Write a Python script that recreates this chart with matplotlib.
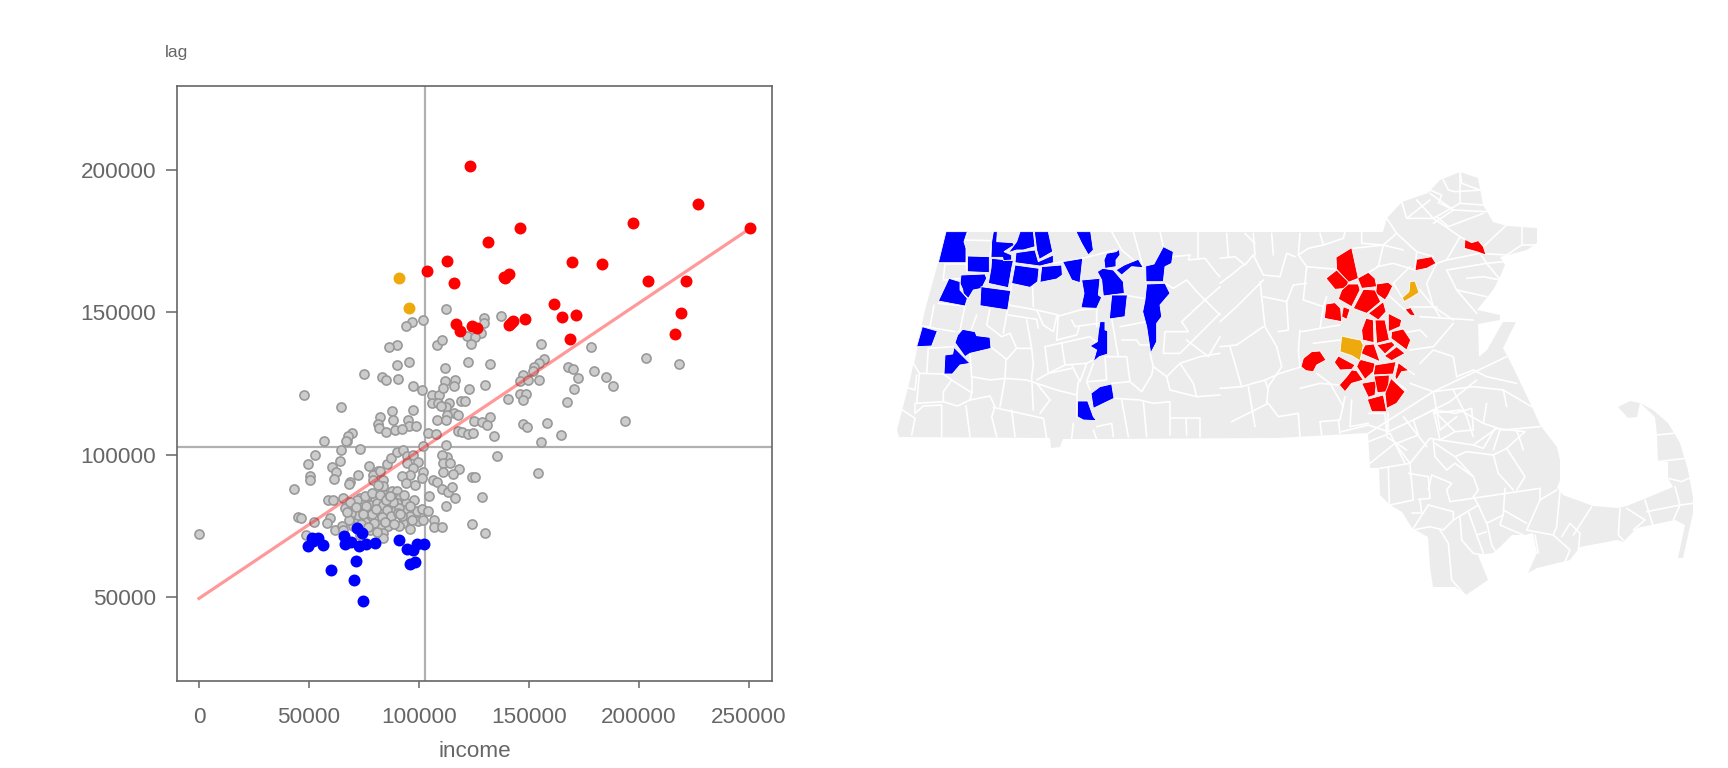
import matplotlib
matplotlib.use("Agg")
import matplotlib.pyplot as plt
from matplotlib.patches import Polygon

plt.rcParams['font.family'] = ['Liberation Sans', 'DejaVu Sans']

# scatter data (income, spatial lag)
grey_income = [57000, 67100, 64500, 73200, 52700, 49700, 64100, 60600, 62100, 77300, 72400, 50500, 50500, 61500, 68600,
               68300, 43200, 81500, 79200, 79000, 83800, 82300, 83800, 81500, 85300, 87300, 89800, 92900, 94400, 97400,
               99700, 94400, 97100, 95900, 102000, 101200, 92400, 94000, 98300, 106500, 108000, 110300, 113300, 104700,
               112100, 97700, 58800, 61100, 65600, 66400, 70200, 73200, 74000, 77000, 80000, 77700, 74700, 70900, 71700,
               75500, 77700, 81100, 84500, 87600, 90100, 89100, 86800, 91400, 94100, 89800, 93600, 85300, 82300, 83800,
               89100, 91100, 95900, 99000, 101200, 104200, 99700, 102000, 92900, 86100, 82300, 83800, 95900, 107000,
               107000, 110600, 45200, 46200, 59500, 58300, 52300, 61800, 64800, 65600, 70900, 75500, 77700, 48500, 73200,
               83800,
               89800, 86400, 108300, 95500, 90100, 75000, 83000, 85000, 90600, 97400, 101500, 106100, 109200, 64500,
               105800, 108800, 87900, 97400, 82300, 88300, 95100, 108300, 81500, 95600, 98500, 81800, 84800, 89100, 92100,
               104200, 107600, 69400, 67900, 66700, 102000,
               112300, 129700, 129700, 137300, 128000, 122000, 125500, 123600, 110300, 155400, 178200, 122400, 132300,
               111800, 157000, 154700, 152400, 151700, 147400, 145900, 149700, 154500, 167600, 170100, 179700, 172400,
               170400, 111800, 116400, 115900, 110800, 122900, 130000, 145900, 148500, 147400, 140600, 167400, 113800,
               118900, 120900, 112300, 110000, 116100, 117600, 112900, 112300, 132300, 125100, 128500, 130800, 147400,
               148900, 158300, 117900, 119400, 122400, 124700, 134200, 164700, 155400, 112300, 135600, 112600, 110300,
               110800, 114100, 118300, 111100, 115600, 123900, 125500, 154100,
               101900, 96700, 94100, 47700, 203300, 218300, 185000, 188300, 193500, 128500, 124200, 130000, 116500,
               115000, 0,
               72000, 75500, 78500, 82500, 86000, 88000, 85500, 87500, 92500, 76000, 72500, 68500, 70000, 79500, 83000,
               91000, 97000, 85000, 90500, 78500,
               69000, 71500, 74500, 68000, 80500, 84500, 87000, 93000, 96000, 73500, 67500, 77000, 81000, 88500, 91500]
grey_lag = [104700, 104700, 101800, 102100, 100000, 96800, 97900, 95700, 93900, 96100, 93000, 92600, 91000, 91500, 90300,
            89800, 88100, 94100, 93000, 91000, 91200, 94100, 88900, 89500, 96800, 98800, 100800, 101500, 99400, 100000,
            97300, 97100, 95300, 93000, 93900, 91800, 92600, 90000, 89500, 91200, 90400, 88100, 86900, 85600,
            82100, 84200, 84200, 84200, 84800, 81300, 82400, 84800, 83000, 84800, 84200, 82400, 80700, 80100, 77200,
            80100, 78300, 83000, 86000, 87100, 87100, 84800, 82400, 84800, 83000, 83000, 80700, 77800, 79500, 82400,
            80100, 81300, 78300, 80100, 80900, 80300, 76600, 77200, 76000, 74800, 74200, 72500, 73900, 77200,
            74600, 74600, 78100, 77800, 77800, 76000, 76300, 73700, 75100, 73700, 76000, 76200, 73700, 71700, 71900,
            70700,
            138600, 137800, 138600, 132600, 131500, 128400, 127300, 126100, 126600, 124200, 122600, 121100, 121100, 116800,
            118200, 118200, 115500, 115800, 113100, 112300, 112300, 112300, 110600, 110200, 110000, 109400, 108000, 108600, 109000,
            107600, 107300, 107600, 106400, 104900, 103000,
            151000, 148000, 146300, 148600, 142800, 141800, 141300, 139000, 140400, 138700, 137800, 132600, 131900,
            130500, 133600, 132200, 130700, 129300, 128100, 125800, 126400, 126400, 130800, 130100, 129500, 126900,
            123100, 126000, 126400, 124000, 123400, 123100, 124300, 121400, 121400, 119300, 119700, 118500, 118200,
            119000, 119000, 116800, 117000, 114600, 113800, 113800, 112100, 113300, 112000, 111400, 110400, 110900,
            109700, 111100, 108400, 107900, 107300, 107600, 106700, 107000, 104500, 103500, 99400, 99200, 100000,
            97100, 97100, 95000, 93900, 93300, 92000, 92000, 93600,
            147200, 146500, 145100, 120900, 133900, 131700, 127200, 124000, 111700, 85100, 75600, 72500, 84800,
            88600, 72100,
            84000, 85500, 86500, 86000, 85000, 83500, 80500, 78500, 78500, 82000, 78800, 83300, 75000, 76000, 78000,
            75000, 77000, 84000, 79500, 79000,
            79500, 81500, 79000, 77000, 81000, 76500, 85500, 85800, 82000, 75500, 80000, 74500, 73000, 75500, 79000]

red_income = [123300, 112900, 103800, 116100, 131200, 117000, 118500, 124100, 126400, 146100, 197300, 227000, 250600,
              169700, 183300, 204200, 221500, 138600, 141100, 139100, 161500, 165200, 171500, 219200, 216500, 168800,
              148200, 142900, 141100, 141800]
red_lag = [201300, 167900, 164400, 160200, 174600, 145800, 143500, 145100, 144500, 179500, 181300, 187900, 179500,
           167600, 166900, 160900, 160900, 162500, 163500, 161900, 153100, 148300, 148900, 149600, 142300, 140500,
           147500, 147000, 145400, 146200]

blue_income = [49700, 51500, 54200, 56500, 52000, 60200, 66100, 66400, 69200, 71700, 73900, 72700, 75900, 80000, 71200,
               70600, 74700, 91100, 94600, 97400, 98900, 102100, 95900, 98200]
blue_lag = [67800, 70700, 70700, 68100, 69600, 59500, 71500, 68700, 69200, 74200, 72500, 67800, 68600, 69000, 62500,
            56000, 48600, 70000, 67000, 66400, 68700, 68600, 61500, 62200]

orange_income = [91100, 95600]
orange_lag = [161900, 151400]

mean_income = 102700
mean_lag = 102800
fit_income = [0, 250600]
fit_lag = [49500, 179500]

x_ticks = [0, 50000, 100000, 150000, 200000, 250000]
y_ticks = [50000, 100000, 150000, 200000]

# map outline, page coordinates
state_outline = [
    (946, 232), (1383, 232), (1387, 218), (1402, 202), (1428, 193), (1440, 180), (1460, 172), (1478, 178), (1483, 205),
    (1493, 222), (1507, 226), (1537, 228), (1537, 243), (1527, 250), (1500, 257), (1505, 265), (1500, 277), (1493, 290),
    (1477, 310), (1500, 315), (1500, 320), (1478, 324), (1479, 357), (1487, 350), (1503, 322), (1516, 322), (1503, 348),
    (1513, 367), (1532, 407), (1540, 425), (1557, 447), (1560, 460), (1560, 480), (1557, 488), (1563, 495), (1593, 506),
    (1618, 508), (1627, 506), (1673, 487), (1668, 478), (1668, 462), (1658, 462), (1657, 435), (1655, 417), (1640, 403),
    (1630, 401), (1618, 407), (1628, 418), (1637, 417), (1640, 403), (1653, 410), (1668, 423), (1680, 443), (1688, 470),
    (1693, 497), (1693, 513), (1683, 558), (1678, 558), (1685, 525), (1675, 520), (1637, 528), (1623, 542), (1617, 540),
    (1580, 547), (1570, 560), (1537, 568), (1528, 573), (1537, 553), (1533, 533), (1525, 535), (1512, 535), (1500, 547),
    (1493, 553), (1478, 555), (1488, 580), (1466, 595), (1455, 587), (1433, 587), (1430, 567), (1428, 537), (1412, 528),
    (1402, 512), (1390, 505), (1380, 495), (1379, 468), (1370, 468), (1368, 433), (1277, 438), (1097, 439), (1063, 439),
    (1060, 447), (1051, 448), (1050, 438), (899, 437), (897, 430), (910, 380), (917, 347), (925, 310), (938, 263),
]

# digitised on sheets: (x0, y0) is the sheet corner, sheet units are 1/3 page unit
west_sheet = (880, 200)
east_sheet = (1220, 150)
cape_sheet = (1340, 380)
ne_sheet = (1420, 160)

west_lines = [
    [(262, 95), (252, 125), (258, 188), (262, 215)], [(252, 120), (335, 122)], [(340, 95), (330, 170)],
    [(195, 192), (260, 192)], [(195, 192), (190, 235)], [(190, 240), (245, 235)],
    [(175, 310), (255, 318), (240, 390)], [(162, 315), (150, 380)], [(125, 378), (225, 395)],
    [(110, 440), (100, 490), (118, 520), (190, 522)], [(145, 445), (140, 520)], [(145, 445), (220, 440)],
    [(110, 525), (105, 570), (80, 562)], [(118, 522), (110, 610), (190, 605)],
    [(190, 522), (215, 540), (190, 575), (190, 605), (232, 618), (270, 600)],
    [(215, 540), (275, 578), (270, 600), (330, 588)], [(60, 625), (105, 655), (95, 705)],
    [(105, 610), (105, 640), (130, 618), (185, 615), (185, 710)], [(258, 618), (270, 710)],
    [(330, 588), (345, 620), (335, 650), (350, 710)], [(395, 630), (405, 710)],
    [(340, 622), (490, 655), (500, 715)], [(275, 530), (330, 540), (375, 535), (360, 620)],
    [(375, 535), (440, 540), (470, 550)], [(275, 530), (275, 578)], [(270, 460), (275, 530)],
    [(332, 440), (380, 478), (410, 445), (455, 445)], [(378, 478), (375, 535)], [(290, 345), (270, 400), (235, 395)],
    [(330, 325), (320, 375), (365, 410), (390, 400), (410, 445)], [(385, 315), (470, 330), (535, 345), (530, 420)],
    [(385, 345), (470, 358), (475, 385)], [(395, 252), (385, 315), (370, 400)], [(458, 262), (460, 320)],
    [(470, 330), (490, 375), (520, 395), (530, 350)], [(440, 360), (455, 445), (460, 495), (455, 530), (460, 630)],
    [(530, 350), (600, 330), (650, 325), (650, 380)], [(575, 360), (585, 380), (655, 370)],
    [(530, 420), (590, 405), (598, 380)], [(495, 440), (630, 410), (655, 430)], [(495, 440), (505, 520), (470, 540)],
    [(545, 430), (555, 495), (505, 520)], [(555, 495), (620, 490), (640, 480)], [(575, 495), (600, 545), (620, 490)],
    [(505, 520), (575, 505)], [(470, 550), (530, 570), (590, 585), (595, 545)], [(470, 550), (510, 600), (480, 640)],
    [(590, 585), (590, 650)], [(640, 490), (620, 545), (630, 570)], [(675, 470), (680, 540), (625, 545)],
    [(680, 470), (740, 470), (750, 545), (695, 550)], [(695, 355), (715, 470)], [(720, 380), (800, 365)],
    [(725, 420), (770, 420), (780, 435), (810, 435)], [(750, 545), (785, 575), (815, 525), (820, 500), (810, 460)],
    [(705, 595), (780, 600), (820, 610), (870, 605), (870, 650)], [(725, 600), (745, 710)], [(790, 605), (800, 710)],
    [(870, 655), (960, 655), (960, 710)], [(918, 655), (920, 705)], [(870, 655), (870, 705)],
    [(650, 680), (695, 670), (700, 710)], [(640, 690), (650, 718)], [(580, 670), (575, 715)],
    [(730, 285), (790, 295)], [(695, 95), (725, 150), (790, 205)], [(760, 95), (790, 205)], [(840, 95), (850, 140)],
    [(880, 170), (930, 165), (925, 180), (975, 175), (1010, 220), (1020, 230)],
    [(855, 250), (880, 265), (920, 240), (950, 275), (975, 300), (1020, 260)],
    [(975, 300), (905, 365), (925, 395), (855, 395), (850, 460), (900, 460), (1020, 340)], [(955, 95), (955, 175)],
    [(975, 300), (1020, 345)], [(820, 500), (860, 530), (900, 490), (960, 470), (1020, 460)],
    [(860, 530), (870, 570), (950, 590), (1020, 585)], [(900, 490), (940, 550), (950, 590)],
    [(920, 420), (985, 470), (1020, 410)], [(610, 95), (605, 130)], [(608, 175), (705, 150)],
    [(520, 190), (608, 175)],
]

east_lines = [
    [(0, 325), (45, 320), (75, 345), (100, 315), (130, 375), (180, 380), (200, 310), (225, 320)],
    [(100, 250), (105, 315)], [(155, 250), (160, 315)], [(240, 250), (235, 315), (260, 350), (350, 358)],
    [(20, 250), (25, 320)], [(75, 250), (105, 280)], [(235, 315), (265, 295), (310, 285)],
    [(300, 250), (310, 285), (370, 265), (375, 245)], [(425, 245), (425, 280), (490, 285), (550, 300)],
    [(490, 285), (475, 350), (415, 385)], [(400, 295), (490, 285)], [(500, 205), (530, 250), (590, 305), (585, 360)],
    [(530, 250), (490, 285)], [(545, 155), (560, 205), (630, 150)], [(590, 150), (640, 205)],
    [(640, 205), (720, 160), (790, 165)], [(630, 130), (700, 180)], [(720, 160), (720, 65)],
    [(560, 205), (640, 205), (720, 260), (735, 268)], [(720, 260), (680, 330), (650, 340)], [(590, 305), (640, 320)],
    [(680, 330), (780, 310), (860, 315)], [(790, 290), (860, 225)], [(905, 230), (905, 285), (950, 285)],
    [(860, 315), (905, 285)], [(680, 360), (800, 340), (850, 335)], [(780, 310), (800, 340), (850, 400)],
    [(650, 340), (620, 400), (640, 470), (700, 510)], [(680, 360), (710, 420), (770, 490)], [(710, 420), (800, 440)],
    [(740, 385), (790, 380), (840, 390)], [(600, 420), (640, 470), (660, 500)], [(520, 400), (570, 350)],
    [(570, 470), (650, 470)], [(600, 500), (760, 510)], [(0, 400), (40, 370), (70, 345)],
    [(0, 515), (50, 470), (130, 390)], [(120, 395), (135, 530), (170, 590)],
    [(130, 440), (200, 455), (220, 405), (260, 400)], [(200, 455), (205, 540), (175, 545)],
    [(260, 350), (250, 450), (310, 470), (300, 535)], [(310, 470), (320, 440)], [(0, 590), (50, 585), (130, 530)],
    [(30, 590), (65, 710)], [(170, 590), (185, 650), (145, 710), (140, 760)], [(0, 715), (65, 710), (135, 690), (145, 720)],
    [(245, 650), (180, 670), (135, 690)], [(85, 710), (105, 830)], [(245, 545), (300, 535), (360, 525)],
    [(240, 540), (235, 600), (240, 650)], [(280, 580), (360, 570)], [(240, 715), (300, 700), (358, 705)],
    [(145, 760), (175, 800), (235, 790), (240, 860)], [(145, 760), (105, 780), (35, 815)],
    [(290, 670), (330, 700), (370, 770)], [(300, 815), (305, 855)], [(355, 810), (360, 850)],
    [(300, 815), (360, 810), (375, 740)], [(395, 750), (390, 830), (445, 820)], [(445, 790), (495, 790), (500, 850)],
    [(445, 850), (640, 725), (860, 620)], [(570, 700), (640, 725), (660, 840)], [(520, 690), (560, 720)],
    [(600, 640), (640, 600), (700, 620), (710, 680)], [(710, 680), (760, 660), (800, 680), (890, 700)],
    [(540, 550), (600, 540), (620, 560)], [(570, 600), (640, 590), (700, 520)],
    [(640, 725), (760, 710), (850, 720), (935, 770)], [(700, 720), (740, 800), (760, 860)],
    [(800, 760), (790, 820), (850, 840), (960, 830)], [(640, 790), (720, 780), (790, 820)], [(850, 720), (860, 770)],
    [(500, 860), (560, 900)], [(550, 800), (620, 890)], [(710, 800), (660, 840)], [(840, 840), (820, 900)],
    [(890, 840), (910, 900)], [(470, 350), (520, 340), (585, 360)], [(520, 400), (545, 440)], [(505, 435), (555, 480)],
]

cape_lines = [
    [(5, 155), (85, 135), (145, 155), (220, 120), (330, 65), (410, 0)], [(85, 185), (150, 160), (195, 250)],
    [(90, 250), (165, 190), (210, 250), (270, 175), (300, 180), (400, 195), (470, 145)], [(145, 100), (145, 155)],
    [(220, 120), (280, 90), (300, 180)], [(220, 120), (235, 165), (170, 190)], [(280, 90), (345, 155), (300, 180)],
    [(345, 155), (400, 150), (395, 85), (345, 100), (285, 90)],
    [(400, 195), (430, 205), (465, 145), (555, 155), (500, 205), (460, 225)],
    [(380, 215), (460, 225), (475, 280), (520, 330)], [(500, 205), (555, 290), (530, 330)],
    [(280, 180), (285, 230), (320, 270), (345, 250), (400, 290), (415, 330), (400, 350)], [(345, 230), (400, 290)],
    [(380, 215), (345, 230), (285, 190)], [(210, 250), (120, 265)], [(145, 260), (148, 375)],
    [(210, 255), (220, 360), (150, 375)], [(205, 280), (265, 290), (270, 355), (235, 358)], [(275, 285), (265, 330)],
    [(275, 285), (335, 310), (320, 330), (330, 365)], [(330, 365), (600, 325), (600, 360), (560, 450)],
    [(495, 325), (490, 400), (480, 435), (550, 465)], [(600, 360), (650, 330)],
    [(400, 350), (415, 375), (340, 420), (310, 450), (270, 440), (220, 450)], [(265, 375), (340, 395), (340, 420)],
    [(265, 375), (220, 445)], [(240, 360), (245, 400)], [(215, 400), (240, 400)], [(415, 375), (440, 430), (490, 405)],
    [(440, 425), (455, 495), (470, 520)], [(385, 395), (410, 465), (430, 520)], [(440, 455), (410, 465)],
    [(360, 410), (365, 480), (400, 520), (430, 525)], [(300, 450), (325, 490), (335, 600), (375, 645)],
    [(490, 390), (560, 430)], [(660, 335), (650, 440), (640, 465), (560, 450)], [(640, 465), (690, 510), (675, 545)],
    [(665, 470), (690, 430), (720, 460), (715, 510)], [(755, 380), (700, 465)], [(840, 385), (835, 465), (850, 480)],
    [(860, 385), (915, 420), (880, 450)], [(915, 360), (940, 440)], [(920, 395), (1020, 375), (1000, 420)],
    [(1005, 320), (1020, 375), (1060, 370)], [(950, 165), (1000, 160)], [(955, 245), (1035, 235)],
    [(985, 295), (1025, 305), (1045, 295), (1060, 300)], [(585, 465), (595, 520)],
]

ne_lines = [
    [(30, 90), (65, 105), (55, 130)], [(70, 60), (85, 90), (105, 95), (185, 90)], [(120, 35), (125, 70), (180, 90)],
    [(60, 130), (100, 150), (200, 155)], [(100, 150), (40, 190)], [(50, 170), (85, 200), (190, 160)],
]

blue_towns = [
    [(198, 95), (262, 95), (252, 125), (258, 145), (258, 188), (175, 188)],
    [(263, 168), (328, 170), (328, 218), (262, 215)],
    [(335, 175), (400, 182), (395, 205), (385, 263), (325, 250), (333, 205)],
    [(340, 95), (352, 95), (350, 125), (398, 128), (403, 135), (372, 155), (395, 165), (395, 180), (370, 182), (368, 172), (333, 172), (335, 125)],
    [(420, 95), (460, 95), (465, 140), (430, 150), (410, 150), (385, 158), (410, 125)],
    [(463, 95), (505, 95), (518, 155), (478, 178), (470, 150)],
    [(408, 158), (465, 150), (475, 185), (520, 165), (520, 188), (480, 198), (405, 188)],
    [(405, 195), (477, 205), (473, 245), (450, 262), (395, 250)],
    [(485, 200), (545, 195), (547, 225), (530, 237), (480, 247)],
    [(548, 185), (608, 175), (600, 248), (575, 240)],
    [(588, 95), (632, 95), (640, 150), (625, 165), (605, 130)],
    [(680, 160), (708, 155), (718, 148), (720, 165), (708, 180), (708, 200), (675, 205), (672, 180)],
    [(708, 210), (733, 195), (750, 188), (775, 178), (790, 203), (755, 200), (725, 225)],
    [(652, 215), (668, 205), (700, 210), (730, 245), (733, 280), (670, 288), (665, 240)],
    [(605, 240), (660, 235), (655, 285), (665, 292), (650, 325), (603, 323), (612, 280)],
    [(695, 285), (742, 285), (735, 350), (688, 357)],
    [(850, 140), (880, 155), (875, 190), (855, 200), (850, 245), (798, 245), (797, 198), (822, 192)],
    [(800, 252), (855, 250), (870, 280), (840, 315), (845, 350), (830, 370), (830, 425), (812, 460), (800, 380), (788, 335), (795, 300)],
    [(243, 225), (315, 222), (320, 235), (305, 265), (280, 270), (265, 295), (250, 280), (248, 268), (240, 250)],
    [(207, 235), (240, 245), (240, 270), (262, 295), (255, 318), (175, 303)],
    [(303, 260), (392, 272), (383, 330), (300, 317)],
    [(127, 380), (172, 393), (155, 438), (110, 440)],
    [(248, 388), (285, 395), (290, 407), (330, 412), (333, 445), (270, 460), (255, 470), (225, 428), (233, 405)],
    [(222, 442), (270, 490), (240, 495), (217, 522), (192, 522), (195, 465), (218, 462)],
    [(660, 365), (675, 365), (675, 390), (683, 392), (683, 462), (658, 470), (640, 485), (650, 450), (630, 438), (652, 425), (655, 395)],
    [(660, 560), (695, 552), (702, 595), (640, 625), (633, 580)],
    [(593, 603), (623, 603), (640, 650), (650, 662), (610, 660), (592, 650)],
]

red_towns = [
    [(395, 293), (415, 385), (385, 397), (350, 358), (348, 322)],
    [(350, 360), (385, 395), (380, 415), (345, 418), (318, 385)],
    [(385, 402), (415, 402), (420, 420), (395, 470), (355, 447), (365, 420)],
    [(445, 367), (465, 385), (470, 410), (425, 415), (413, 385)],
    [(470, 402), (505, 397), (518, 408), (505, 435), (495, 450), (467, 430)],
    [(430, 418), (465, 420), (482, 455), (440, 490), (400, 475)],
    [(318, 462), (345, 458), (362, 475), (365, 515), (313, 505)],
    [(370, 470), (390, 478), (380, 508), (365, 500)],
    [(490, 455), (498, 485), (475, 510), (445, 490)],
    [(505, 490), (545, 510), (540, 530), (505, 545)],
    [(438, 505), (460, 510), (462, 578), (428, 570), (425, 540)],
    [(465, 510), (495, 510), (508, 570), (470, 580)],
    [(515, 545), (550, 537), (572, 570), (560, 600), (513, 565)],
    [(470, 585), (515, 575), (525, 585), (495, 612)],
    [(530, 590), (555, 610), (515, 632), (493, 618)],
    [(435, 585), (462, 582), (480, 635), (422, 610)],
    [(465, 645), (528, 635), (520, 672), (460, 675)],
    [(420, 628), (465, 640), (460, 665), (435, 688), (410, 650)],
    [(535, 638), (585, 675), (565, 662), (545, 665), (530, 690), (525, 680)],
    [(355, 618), (405, 645), (395, 658), (360, 660), (343, 637)],
    [(395, 660), (410, 662), (430, 690), (395, 700), (375, 725), (358, 705), (380, 680)],
    [(425, 700), (470, 692), (465, 735), (445, 742)],
    [(462, 678), (508, 675), (505, 725), (472, 728)],
    [(513, 685), (555, 725), (530, 760), (500, 775), (495, 730)],
    [(442, 748), (490, 735), (500, 785), (455, 785)],
    [(275, 605), (300, 603), (318, 630), (290, 645), (280, 665), (258, 662), (243, 650), (250, 625)],
    [(590, 328), (635, 320), (648, 340), (620, 355), (585, 362)],
    [(735, 268), (755, 278), (775, 272), (790, 290), (798, 315), (770, 305), (733, 295)],
    [(555, 478), (572, 473), (587, 498), (570, 495)],
]

orange_towns = [
    [(570, 395), (585, 393), (597, 428), (570, 445), (552, 455), (547, 443), (567, 425)],
    [(365, 558), (395, 565), (422, 570), (430, 585), (420, 632), (395, 617), (360, 605)],
]

TEXT = '#666666'
AXIS = '#666666'
fig_w, fig_h = 1728, 768


def place(points, sheet):
    return [(sheet[0] + x / 3, sheet[1] + y / 3) for x, y in points]


fig = plt.figure(figsize=(17.28, 7.68), dpi=100)

# map underneath, whole page
ax_map = fig.add_axes([0, 0, 1, 1])
ax_map.set_xlim(0, fig_w)
ax_map.set_ylim(fig_h, 0)
ax_map.axis('off')
ax_map.add_patch(Polygon(state_outline, closed=True, facecolor='#ececec', edgecolor='none'))
for lines, sheet in [(west_lines, west_sheet), (east_lines, east_sheet), (cape_lines, cape_sheet), (ne_lines, ne_sheet)]:
    for line in lines:
        pts = place(line, sheet)
        ax_map.plot([p[0] for p in pts], [p[1] for p in pts], color='white', lw=1.2, solid_capstyle='round')
for towns, sheet, col in [(blue_towns, west_sheet, '#0000ff'), (red_towns, east_sheet, '#ff0000'),
                          (orange_towns, east_sheet, '#eeaa0d')]:
    for town in towns:
        ax_map.add_patch(Polygon(place(town, sheet), closed=True, facecolor=col, edgecolor='white', lw=0.6, zorder=3))

# scatter
ax = fig.add_axes([177 / fig_w, 1 - 681 / fig_h, 595 / fig_w, 595 / fig_h])
ax.patch.set_alpha(0)
ax.set_xlim(-10000, 260500)
ax.set_ylim(20500, 229500)
ax.axvline(mean_income, color='#b0b0b0', lw=1.6, zorder=1)
ax.axhline(mean_lag, color='#b0b0b0', lw=1.6, zorder=1)
ax.scatter(grey_income, grey_lag, s=43, facecolor='#cccccc', edgecolor='#999999', linewidth=1.2, zorder=2)
ax.plot(fit_income, fit_lag, color='#ff0000', alpha=0.4, lw=2.3, zorder=3)
ax.scatter(red_income, red_lag, s=74, color='#ff0000', linewidth=0, zorder=4)
ax.scatter(blue_income, blue_lag, s=74, color='#0000ff', linewidth=0, zorder=4)
ax.scatter(orange_income, orange_lag, s=74, color='#eeaa0d', linewidth=0, zorder=4)

ax.set_xticks(x_ticks)
ax.set_yticks(y_ticks)
ax.tick_params(axis='x', length=5, width=1.1, color=AXIS, labelcolor=TEXT, labelsize=16.2, pad=14)
ax.tick_params(axis='y', length=8, width=1.1, color=AXIS, labelcolor=TEXT, labelsize=16.2, pad=7)
for spine in ax.spines.values():
    spine.set_color(AXIS)
    spine.set_linewidth(1.2)
ax.set_xlabel('income', fontsize=16.2, color=TEXT, labelpad=9)
fig.text(165 / fig_w, 1 - 53 / fig_h, 'lag', fontsize=12.5, color=TEXT, va='center', ha='left')

fig.savefig('out.png', dpi=100)
